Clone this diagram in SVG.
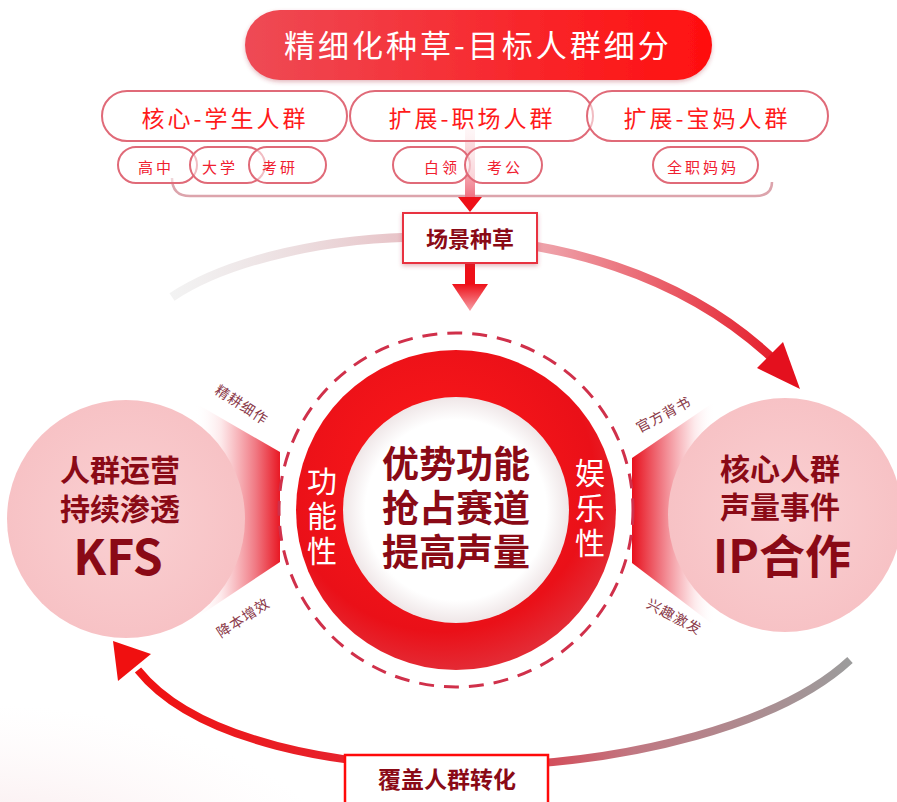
<svg xmlns="http://www.w3.org/2000/svg" width="897" height="802" viewBox="0 0 897 802">
<defs>
<style>
text{font-family:"Noto Sans CJK SC","Noto Sans",sans-serif;}
.pill{fill:#fff;fill-opacity:.55;stroke:#e06a78;stroke-width:2;}
.pt{fill:#ff1a1a;font-size:23px;text-anchor:middle;letter-spacing:3px;}
.st{fill:#f02030;font-size:15px;text-anchor:middle;letter-spacing:3px;}
.bt{fill:#8a0a16;font-weight:bold;text-anchor:middle;}
.wt{fill:#fff;font-size:30px;text-anchor:middle;writing-mode:vertical-rl;letter-spacing:5px;}
.lab{fill:#8a3848;font-size:14px;text-anchor:middle;letter-spacing:1px;}
</style>
<linearGradient id="title" x1="0" y1="0" x2="1" y2="0"><stop offset="0" stop-color="#ee4a55"/><stop offset="1" stop-color="#ff0f0f"/></linearGradient>
<linearGradient id="upArc" gradientUnits="userSpaceOnUse" x1="172" y1="0" x2="800" y2="0"><stop offset="0" stop-color="#e6e6e6" stop-opacity=".5"/><stop offset=".35" stop-color="#e8c6ca"/><stop offset=".6" stop-color="#eea0a8"/><stop offset="1" stop-color="#e4101e"/></linearGradient>
<linearGradient id="lowArc" gradientUnits="userSpaceOnUse" x1="850" y1="0" x2="130" y2="0"><stop offset="0" stop-color="#9c9c9c"/><stop offset=".3" stop-color="#c07882"/><stop offset=".5" stop-color="#e03040"/><stop offset="1" stop-color="#f01010"/></linearGradient>
<linearGradient id="wedgeL" gradientUnits="userSpaceOnUse" x1="195" y1="0" x2="282" y2="0"><stop offset="0" stop-color="#ffffff" stop-opacity="0"/><stop offset=".3" stop-color="#fde6e8" stop-opacity=".9"/><stop offset=".7" stop-color="#f07882"/><stop offset="1" stop-color="#e8101c"/></linearGradient>
<linearGradient id="wedgeR" gradientUnits="userSpaceOnUse" x1="632" y1="0" x2="715" y2="0"><stop offset="0" stop-color="#e8101c"/><stop offset=".35" stop-color="#f07882"/><stop offset=".75" stop-color="#fde6e8" stop-opacity=".9"/><stop offset="1" stop-color="#ffffff" stop-opacity="0"/></linearGradient>
<radialGradient id="ring" cx=".45" cy=".4" r=".6"><stop offset="0" stop-color="#ff1a1a"/><stop offset=".8" stop-color="#ea1018"/><stop offset="1" stop-color="#e42a34"/></radialGradient>
<radialGradient id="inner" cx=".5" cy=".5" r=".5"><stop offset=".8" stop-color="#ffffff"/><stop offset="1" stop-color="#efe6e7"/></radialGradient>
<radialGradient id="pink" cx=".5" cy=".5" r=".5"><stop offset="0" stop-color="#fad0d2"/><stop offset="1" stop-color="#f7c2c5"/></radialGradient>
<linearGradient id="downArrow" x1="0" y1="0" x2="0" y2="1"><stop offset="0" stop-color="#ee1018"/><stop offset="1" stop-color="#f7a0a8"/></linearGradient>
<linearGradient id="upBar" x1="0" y1="0" x2="0" y2="1"><stop offset="0" stop-color="#f7c0c6" stop-opacity=".3"/><stop offset="1" stop-color="#ef7080"/></linearGradient>
<radialGradient id="bgPink" cx=".3" cy=".9" r=".8"><stop offset="0" stop-color="#f2d2d6" stop-opacity=".8"/><stop offset="1" stop-color="#fbeef0" stop-opacity="0"/></radialGradient>
<filter id="sh" x="-10%" y="-20%" width="120%" height="150%"><feDropShadow dx="0" dy="2" stdDeviation="2" flood-color="#b03040" flood-opacity=".35"/></filter>
</defs>
<rect width="897" height="802" fill="#ffffff"/>
<ellipse cx="70" cy="800" rx="240" ry="120" fill="url(#bgPink)"/>

<g id="connectors">
<path d="M172 297 C280 225 590 190 770 356" fill="none" stroke="url(#upArc)" stroke-width="9"/>
<polygon points="800,389 757,368 783,342" fill="#e4101e"/>
<path d="M850 660 C710 790 250 810 138 670" fill="none" stroke="url(#lowArc)" stroke-width="8"/>
<polygon points="113,641 118,681 151,654" fill="#f01010"/>
<path d="M172 178 Q172 196 190 196 L755 196 Q772 196 772 182" fill="none" stroke="#dca4ac" stroke-width="2.5"/>
<rect x="465" y="128" width="10" height="70" fill="url(#upBar)"/>
<polygon points="458,197 482,197 470,212" fill="#ee1018"/>
<rect x="465" y="262" width="10" height="24" fill="#ee1018"/>
<polygon points="452,284 488,284 470,311" fill="url(#downArrow)"/>
<polygon points="190,400 280,452 280,562 190,622" fill="url(#wedgeL)"/>
<polygon points="632,458 720,398 720,630 632,563" fill="url(#wedgeR)"/>
</g>

<g id="title">
<rect x="245" y="10" width="467" height="70" rx="35" fill="url(#title)" filter="url(#sh)"/>
<text x="478" y="57" fill="#fff" font-size="31" text-anchor="middle" letter-spacing="3">精细化种草-目标人群细分</text>
</g>

<g id="group-students">
<rect class="pill" x="102" y="91" width="245" height="50" rx="25"/>
<text class="pt" x="225" y="127">核心-学生人群</text>
</g>
<g id="group-work">
<rect class="pill" x="350" y="91" width="243" height="50" rx="25"/>
<text class="pt" x="472" y="127">扩展-职场人群</text>
</g>
<g id="group-mom">
<rect class="pill" x="587" y="91" width="241" height="50" rx="25"/>
<text class="pt" x="707" y="127">扩展-宝妈人群</text>
</g>

<g id="sub-gaozhong"><rect class="pill" x="118" y="147" width="79" height="36" rx="18"/><text class="st" x="156" y="173">高中</text></g>
<g id="sub-daxue"><rect class="pill" x="190" y="147" width="75" height="36" rx="18"/><text class="st" x="220" y="173">大学</text></g>
<g id="sub-kaoyan"><rect class="pill" x="249" y="147" width="77" height="36" rx="18"/><text class="st" x="280" y="173">考研</text></g>
<g id="sub-bailing"><rect class="pill" x="393" y="147" width="77" height="36" rx="18"/><text class="st" x="442" y="173">白领</text></g>
<g id="sub-kaogong"><rect class="pill" x="465" y="147" width="77" height="36" rx="18"/><text class="st" x="505" y="173">考公</text></g>
<g id="sub-mama"><rect class="pill" x="653" y="147" width="105" height="36" rx="18"/><text class="st" x="703" y="173">全职妈妈</text></g>

<g id="scene">
<rect x="403" y="213" width="134" height="50" fill="#fff" stroke="#e83040" stroke-width="2" filter="url(#sh)"/>
<text class="bt" x="470" y="247" font-size="22">场景种草</text>
</g>

<g id="center">
<circle cx="456" cy="510" r="177" fill="none" stroke="#d0304a" stroke-width="3" stroke-dasharray="15 10"/>
<circle cx="456" cy="510" r="160" fill="url(#ring)"/>
<circle cx="456" cy="510" r="113" fill="url(#inner)"/>
<text class="bt" font-size="37"><tspan x="456" y="478">优势功能</tspan><tspan x="456" y="522">抢占赛道</tspan><tspan x="456" y="566">提高声量</tspan></text>
<text class="wt" x="322" y="518">功能性</text>
<text class="wt" x="590" y="510">娱乐性</text>
</g>

<g id="left-node">
<circle cx="126" cy="519" r="119" fill="url(#pink)"/>
<text class="bt" font-size="30"><tspan x="120" y="481">人群运营</tspan><tspan x="120" y="520">持续渗透</tspan><tspan x="118" y="575" font-size="48">KFS</tspan></text>
</g>

<g id="right-node">
<circle cx="785" cy="515" r="117" fill="url(#pink)"/>
<text class="bt" font-size="30"><tspan x="780" y="480">核心人群</tspan><tspan x="780" y="518">声量事件</tspan><tspan x="782" y="573" font-size="46">IP合作</tspan></text>
</g>

<g id="labels">
<text class="lab" transform="translate(239,409) rotate(33)">精耕细作</text>
<text class="lab" transform="translate(246,622) rotate(-33)">降本增效</text>
<text class="lab" transform="translate(666,419) rotate(-28)">官方背书</text>
<text class="lab" transform="translate(672,621) rotate(28)">兴趣激发</text>
</g>

<g id="bottom">
<rect x="345" y="755" width="203" height="60" fill="#fff" stroke="#ff0a0a" stroke-width="2.5"/>
<text class="bt" x="447" y="788" font-size="23">覆盖人群转化</text>
</g>
</svg>
